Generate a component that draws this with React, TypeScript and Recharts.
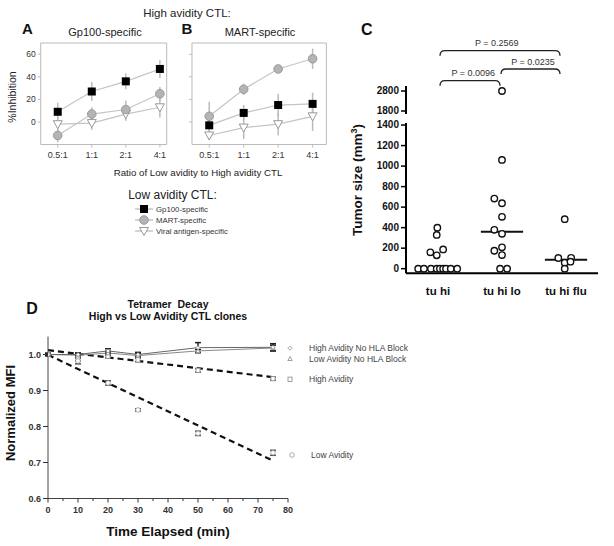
import React from 'react';
import {
  LineChart, Line, XAxis, YAxis, ErrorBar, ReferenceArea,
  ScatterChart, Scatter, ReferenceLine, ComposedChart,
} from 'recharts';

const FONT = "'Liberation Sans', Arial, Helvetica, sans-serif";

// ---- panels A / B : % inhibition
const ratios = ['0.5:1', '1:1', '2:1', '4:1'];
const inhibTicks = [0, 20, 40, 60];

const gpA = [9, 27, 36, 47];
const gpAErr = [8, 8.5, 7, 8];
const martA = [-12, 7, 11, 25];
const martAErr = [6, 6, 8, 6];
const viralA = [-2, -1, 7, 13];
const viralAErr = [7, 6, 6, 9];

const gpB = [-3, 8, 15, 16];
const gpBErr = [5, 7, 10, 10];
const martB = [5, 29, 47, 56];
const martBErr = [13, 5, 3, 9];
const viralB = [-12, -5, -2, 5];
const viralBErr = [4, 10, 10, 13];

// ---- panel C : tumor size
const groups = ['tu  hi', 'tu hi lo', 'tu hi flu'];
const tuHi = [0, 0, 0, 0, 0, 0, 0, 0, 0, 400, 329, 159, 130, 188];
const tuHiJit = [-0.31, -0.22, -0.11, -0.02, 0.03, 0.08, 0.125, 0.2, 0.3, -0.01, -0.02, -0.12, -0.02, 0.08];
const tuHiLo = [2800, 1060, 683, 638, 505, 379, 340, 208, 175, 133, 0, 0];
const tuHiLoJit = [0, 0, -0.12, 0, 0, -0.12, 0, 0, -0.12, 0, -0.03, 0.08];
const tuHiFlu = [483, 104, 106, 58, 68, 0];
const tuHiFluJit = [-0.02, -0.12, 0.08, -0.02, 0.07, -0.02];
const medians = [0, 359, 87];
const lowTicks = [0, 200, 400, 600, 800, 1000, 1200, 1400];
const highTicks = [1800, 2800];

// ---- panel D : tetramer decay
const times = [0, 10, 20, 30, 50, 75];
const hiNoBlock = [1.0, 1.0, 1.01, 1.0, 1.019, 1.02];
const hiNoBlockErr = [0.003, 0.004, 0.006, 0.006, 0.014, 0.01];
const loNoBlock = [1.0, 0.998, 1.004, 0.997, 1.01, 1.018];
const loNoBlockErr = [0.003, 0.006, 0.005, 0.005, 0.004, 0.008];
const hiAvid = [1.0, 0.99, 0.995, 0.985, 0.956, 0.933];
const hiAvidErr = [0.003, 0.008, 0.004, 0.005, 0.005, 0.004];
const loAvid = [1.0, 0.982, 0.921, 0.846, 0.781, 0.727];
const loAvidErr = [0.003, 0.008, 0.006, 0.003, 0.006, 0.007];
const fitTimes = [0, 75];
const hiFit = [1.012, 0.937];
const loFit = [0.999, 0.705];
const mfiTicks = [0.6, 0.7, 0.8, 0.9, 1.0];
const timeTicks = [0, 5, 10, 15, 20, 25, 30, 35, 40, 45, 50, 55, 60, 65, 70, 75, 80];

const rowsA = ratios.map((r, i) => ({
  x: i, gp: gpA[i], gpErr: gpAErr[i], mart: martA[i], martErr: martAErr[i], viral: viralA[i], viralErr: viralAErr[i],
}));
const rowsB = ratios.map((r, i) => ({
  x: i, gp: gpB[i], gpErr: gpBErr[i], mart: martB[i], martErr: martBErr[i], viral: viralB[i], viralErr: viralBErr[i],
}));

const toPts = (vals: number[], jit: number[], g: number) => vals.map((v, i) => ({ x: g + 1 + jit[i], y: v }));
const ptsC = [toPts(tuHi, tuHiJit, 0), toPts(tuHiLo, tuHiLoJit, 1), toPts(tuHiFlu, tuHiFluJit, 2)];
const allC = ptsC.flat();
const lowPts = allC.filter((p) => p.y < 1500);
const highPts = allC.filter((p) => p.y >= 1500);
const MED_HALF = 0.33;

const series = (vals: number[], errs: number[]) => times.map((t, i) => ({ t, v: vals[i], e: errs[i] }));
const fitRows = (vals: number[]) => fitTimes.map((t, i) => ({ t, v: vals[i] }));

// markers
const square = (p: any) => <rect key={`s${p.index}`} x={p.cx - 4} y={p.cy - 4} width={8} height={8} fill="#000" />;
const grayCircle = (p: any) => <circle key={`c${p.index}`} cx={p.cx} cy={p.cy} r={4.3} fill="#b4b4b4" stroke="#999" strokeWidth={1} />;
const downTri = (p: any) => (
  <path key={`t${p.index}`} d={`M${p.cx - 4.5},${p.cy - 3.5} L${p.cx + 4.5},${p.cy - 3.5} L${p.cx},${p.cy + 4.5} Z`} fill="#fff" stroke="#999" strokeWidth={1} />
);
const smallDiamond = (p: any) => (
  <path key={`d${p.index}`} d={`M${p.cx},${p.cy - 2} L${p.cx + 2},${p.cy} L${p.cx},${p.cy + 2} L${p.cx - 2},${p.cy} Z`} fill="#fff" stroke="#888" strokeWidth={0.8} />
);
const smallTri = (p: any) => (
  <path key={`u${p.index}`} d={`M${p.cx},${p.cy - 2.2} L${p.cx + 2.2},${p.cy + 1.8} L${p.cx - 2.2},${p.cy + 1.8} Z`} fill="#fff" stroke="#888" strokeWidth={0.8} />
);
const smallSquare = (p: any) => <rect key={`q${p.index}`} x={p.cx - 2} y={p.cy - 2.2} width={4} height={4.4} fill="#fff" stroke="#888" strokeWidth={0.8} />;
const smallCircle = (p: any) => <circle key={`o${p.index}`} cx={p.cx} cy={p.cy} r={2.3} fill="#fff" stroke="#999" strokeWidth={0.8} />;
const openCircle = (p: any) => <circle cx={p.cx} cy={p.cy} r={3.2} fill="#fff" stroke="#111" strokeWidth={1.4} />;

function TimeTick(props: any) {
  const { x, y, payload } = props;
  const major = payload.value % 10 === 0;
  return (
    <g>
      <line x1={x} x2={x} y1={y} y2={y + (major ? 4 : 2.5)} stroke="#333" />
      {major && (
        <text x={x} y={y + 14} textAnchor="middle" fontSize={9} fontWeight="bold" fill="#333" fontFamily={FONT}>
          {payload.value}
        </text>
      )}
    </g>
  );
}

// tick used on both segments of the broken tumour-size axis
function SizeTick(props: any) {
  const { x, y, payload } = props;
  return (
    <text x={x} y={y + 3.2} textAnchor="end" fontSize={10} fontWeight="bold" fill="#111" fontFamily={FONT}>
      {payload.value}
    </text>
  );
}

function InhibPanel({ rows, showLabels, domainMax }: { rows: any[]; showLabels: boolean; domainMax: number }) {
  const yw = showLabels ? 40.7 : 10;
  const plotW = showLabels ? 126 : 134.4;
  return (
    <LineChart width={yw + plotW + 6} height={136.5} data={rows} margin={{ top: 13, right: 6, left: 0, bottom: 0 }}>
      <XAxis
        dataKey="x" type="number" domain={[-0.5, domainMax]} ticks={[0, 1, 2, 3]} allowDataOverflow interval={0}
        tickFormatter={(i: number) => ratios[i]} axisLine={false} tickSize={3} tickMargin={4} height={22}
        tickLine={{ stroke: '#bbb' }} tick={{ fontSize: 9, fill: '#333', fontFamily: FONT }}
      />
      <YAxis
        type="number" domain={[-20, 70]} ticks={inhibTicks} width={yw} axisLine={false} tickSize={3} interval={0}
        tickLine={{ stroke: '#bbb' }} tickFormatter={(v: number) => (showLabels ? String(v) : '')}
        tick={{ fontSize: 8.5, fill: '#333', fontFamily: FONT }}
      />
      <ReferenceArea x1={-0.5} x2={domainMax} y1={-20} y2={70} fill="none" stroke="#bbb" strokeWidth={1} />
      <Line dataKey="viral" stroke="#c4c4c4" strokeWidth={1.2} dot={downTri} isAnimationActive={false}>
        <ErrorBar dataKey="viralErr" direction="y" width={0} stroke="#bbb" />
      </Line>
      <Line dataKey="mart" stroke="#c4c4c4" strokeWidth={1.2} dot={grayCircle} isAnimationActive={false}>
        <ErrorBar dataKey="martErr" direction="y" width={0} stroke="#bbb" />
      </Line>
      <Line dataKey="gp" stroke="#c4c4c4" strokeWidth={1.2} dot={square} isAnimationActive={false}>
        <ErrorBar dataKey="gpErr" direction="y" width={0} stroke="#bbb" />
      </Line>
    </LineChart>
  );
}

function Bracket({ x1, x2, y }: { x1: number; x2: number; y: number }) {
  return (
    <path
      d={`M${x1},${y + 5} Q${x1},${y} ${x1 + 5},${y} L${x2 - 5},${y} Q${x2},${y} ${x2},${y + 5}`}
      fill="none" stroke="#222" strokeWidth={1.3}
    />
  );
}

export default function App() {
  const abs = (left: number, top: number): React.CSSProperties => ({ position: 'absolute', left, top });
  return (
    <div style={{ position: 'absolute', left: 0, top: 0, width: 614, height: 546, background: '#fff', fontFamily: FONT }}>
      {/* A */}
      <div style={abs(0, 30)}>
        <InhibPanel rows={rowsA} showLabels domainMax={3.2} />
      </div>
      {/* B */}
      <div style={abs(182.3, 30)}>
        <InhibPanel rows={rowsB} showLabels={false} domainMax={3.4} />
      </div>

      {/* C lower segment */}
      <div style={abs(356, 117)}>
        <ScatterChart width={250} height={186.3} margin={{ top: 6, right: 8, left: 0, bottom: 0 }}>
          <XAxis
            type="number" dataKey="x" domain={[0.5, 3.5]} ticks={[1, 2, 3]} height={30} interval={0}
            tickFormatter={(v: number) => groups[v - 1]} tickLine={false} tickMargin={8}
            axisLine={{ stroke: '#000', strokeWidth: 2 }}
            tick={{ fontSize: 11.5, fontWeight: 'bold', fill: '#111', fontFamily: FONT }}
          />
          <YAxis
            type="number" dataKey="y" domain={[-45, 1420]} ticks={lowTicks} width={50} allowDataOverflow interval={0}
            axisLine={{ stroke: '#000', strokeWidth: 2 }} tickLine={{ stroke: '#000', strokeWidth: 1.5 }} tickSize={5}
            tick={SizeTick}
          />
          {medians.map((m, g) => (
            <ReferenceLine
              key={g} segment={[{ x: g + 1 - MED_HALF, y: m }, { x: g + 1 + MED_HALF, y: m }]}
              stroke="#111" strokeWidth={2}
            />
          ))}
          <Scatter data={lowPts} shape={openCircle} isAnimationActive={false} />
        </ScatterChart>
      </div>
      {/* C upper segment (axis break) */}
      <div style={{ ...abs(356, 76), zIndex: 2 }}>
        <ScatterChart width={250} height={38} margin={{ top: 10, right: 8, left: 0, bottom: 0 }}>
          <XAxis type="number" dataKey="x" domain={[0.5, 3.5]} hide />
          <YAxis
            type="number" dataKey="y" domain={[1650, 3050]} ticks={highTicks} width={50} allowDataOverflow interval={0}
            axisLine={{ stroke: '#000', strokeWidth: 2 }} tickLine={{ stroke: '#000', strokeWidth: 1.5 }} tickSize={5}
            tick={SizeTick}
          />
          <Scatter data={highPts} shape={openCircle} isAnimationActive={false} />
        </ScatterChart>
      </div>

      {/* D */}
      <div style={abs(0, 326)}>
        <ComposedChart width={298} height={194.5} margin={{ top: 10.5, right: 10, left: 0, bottom: 0 }}>
          <XAxis
            dataKey="t" type="number" domain={[0, 80]} ticks={timeTicks} height={22} tickSize={0} tickMargin={0} interval={0}
            axisLine={{ stroke: '#444' }} tickLine={false} tick={TimeTick} allowDataOverflow
          />
          <YAxis
            type="number" domain={[0.6, 1.05]} ticks={mfiTicks} width={48} allowDataOverflow interval={0}
            tickFormatter={(v: number) => v.toFixed(1)} axisLine={{ stroke: '#444' }} tickLine={{ stroke: '#333' }} tickSize={5}
            tick={{ fontSize: 9, fontWeight: 'bold', fill: '#333', fontFamily: FONT }}
          />
          <Line data={fitRows(hiFit)} dataKey="v" stroke="#111" strokeWidth={2.2} strokeDasharray="6 4" dot={false} isAnimationActive={false} />
          <Line data={fitRows(loFit)} dataKey="v" stroke="#111" strokeWidth={2.2} strokeDasharray="6 4" dot={false} isAnimationActive={false} />
          <Line data={series(hiAvid, hiAvidErr)} dataKey="v" stroke="none" dot={smallSquare} isAnimationActive={false}>
            <ErrorBar dataKey="e" direction="y" width={3} stroke="#555" />
          </Line>
          <Line data={series(loAvid, loAvidErr)} dataKey="v" stroke="none" dot={smallCircle} isAnimationActive={false}>
            <ErrorBar dataKey="e" direction="y" width={3} stroke="#555" />
          </Line>
          <Line data={series(loNoBlock, loNoBlockErr)} dataKey="v" stroke="#888" strokeWidth={1} dot={smallTri} isAnimationActive={false}>
            <ErrorBar dataKey="e" direction="y" width={3} stroke="#222" />
          </Line>
          <Line data={series(hiNoBlock, hiNoBlockErr)} dataKey="v" stroke="#666" strokeWidth={1} dot={smallDiamond} isAnimationActive={false}>
            <ErrorBar dataKey="e" direction="y" width={3} stroke="#222" />
          </Line>
        </ComposedChart>
      </div>

      {/* texts and annotations */}
      <svg width={614} height={546} style={{ position: 'absolute', left: 0, top: 0, pointerEvents: 'none', zIndex: 3 }} fontFamily={FONT}>
        <text x={187} y={17} textAnchor="middle" fontSize={11.5} fill="#222">High avidity CTL:</text>
        <text x={27.5} y={33.5} textAnchor="middle" fontSize={15} fontWeight="bold" fill="#111">A</text>
        <text x={105} y={35.5} textAnchor="middle" fontSize={11} fill="#222">Gp100-specific</text>
        <text x={187} y={33.5} textAnchor="middle" fontSize={15} fontWeight="bold" fill="#111">B</text>
        <text x={260} y={35.5} textAnchor="middle" fontSize={11} fill="#222">MART-specific</text>
        <text x={0} y={0} transform="translate(16,97) rotate(-90)" textAnchor="middle" fontSize={10.5} fill="#222">%Inhibition</text>
        <text x={198} y={175.5} textAnchor="middle" fontSize={9.7} fill="#222">Ratio of Low avidity to High avidity CTL</text>
        <text x={172.5} y={198.5} textAnchor="middle" fontSize={12} fill="#222">Low avidity CTL:</text>
        <line x1={135} x2={153} y1={209} y2={209} stroke="#aaa" />
        {square({ cx: 144, cy: 209, index: 'la' })}
        <text x={156} y={211.8} fontSize={7.8} fill="#333">Gp100-specific</text>
        <line x1={135} x2={153} y1={220} y2={220} stroke="#aaa" />
        {grayCircle({ cx: 144, cy: 220, index: 'lb' })}
        <text x={156} y={222.8} fontSize={7.8} fill="#333">MART-specific</text>
        <line x1={135} x2={153} y1={231} y2={231} stroke="#aaa" />
        {downTri({ cx: 144, cy: 231, index: 'lc' })}
        <text x={156} y={233.8} fontSize={7.8} fill="#333">Viral antigen-specific</text>

        <text x={366.7} y={35} textAnchor="middle" fontSize={16} fontWeight="bold" fill="#111">C</text>
        <text x={496.7} y={46.3} textAnchor="middle" fontSize={9} fill="#333">P = 0.2569</text>
        <Bracket x1={440} x2={560} y={50.7} />
        <text x={533} y={65.3} textAnchor="middle" fontSize={9} fill="#333">P = 0.0235</text>
        <Bracket x1={501} x2={560} y={69} />
        <text x={473.3} y={76.3} textAnchor="middle" fontSize={9} fill="#333">P = 0.0096</text>
        <Bracket x1={440} x2={500} y={80.7} />
        <text x={0} y={0} transform="translate(361.5,180) rotate(-90)" textAnchor="middle" fontSize={13.5} fontWeight="bold" fill="#111">
          Tumor size (mm<tspan fontSize={9} dy={-5}>3</tspan><tspan dy={5}>)</tspan>
        </text>

        <text x={32} y={314} textAnchor="middle" fontSize={16} fontWeight="bold" fill="#111">D</text>
        <text x={168} y={308.3} textAnchor="middle" fontSize={10.5} fontWeight="bold" fill="#111" xmlSpace="preserve">Tetramer  Decay</text>
        <text x={168} y={319.5} textAnchor="middle" fontSize={10.5} fontWeight="bold" fill="#111">High vs Low Avidity CTL clones</text>
        <text x={0} y={0} transform="translate(15,413) rotate(-90)" textAnchor="middle" fontSize={13} fontWeight="bold" fill="#111">Normalized MFI</text>
        <text x={168} y={536} textAnchor="middle" fontSize={13.5} fontWeight="bold" fill="#111">Time Elapsed (min)</text>
        {smallDiamond({ cx: 290, cy: 348.3, index: 'da' })}
        <text x={309} y={351.3} fontSize={8.5} fill="#444">High Avidity No HLA Block</text>
        {smallTri({ cx: 290, cy: 358.7, index: 'db' })}
        <text x={309} y={361.7} fontSize={8.5} fill="#444">Low Avidity No HLA Block</text>
        {smallSquare({ cx: 290, cy: 379.3, index: 'dc' })}
        <text x={309} y={382.3} fontSize={8.5} fill="#444">High Avidity</text>
        {smallCircle({ cx: 292, cy: 455, index: 'dd' })}
        <text x={311} y={458} fontSize={8.5} fill="#444">Low Avidity</text>
      </svg>
    </div>
  );
}
